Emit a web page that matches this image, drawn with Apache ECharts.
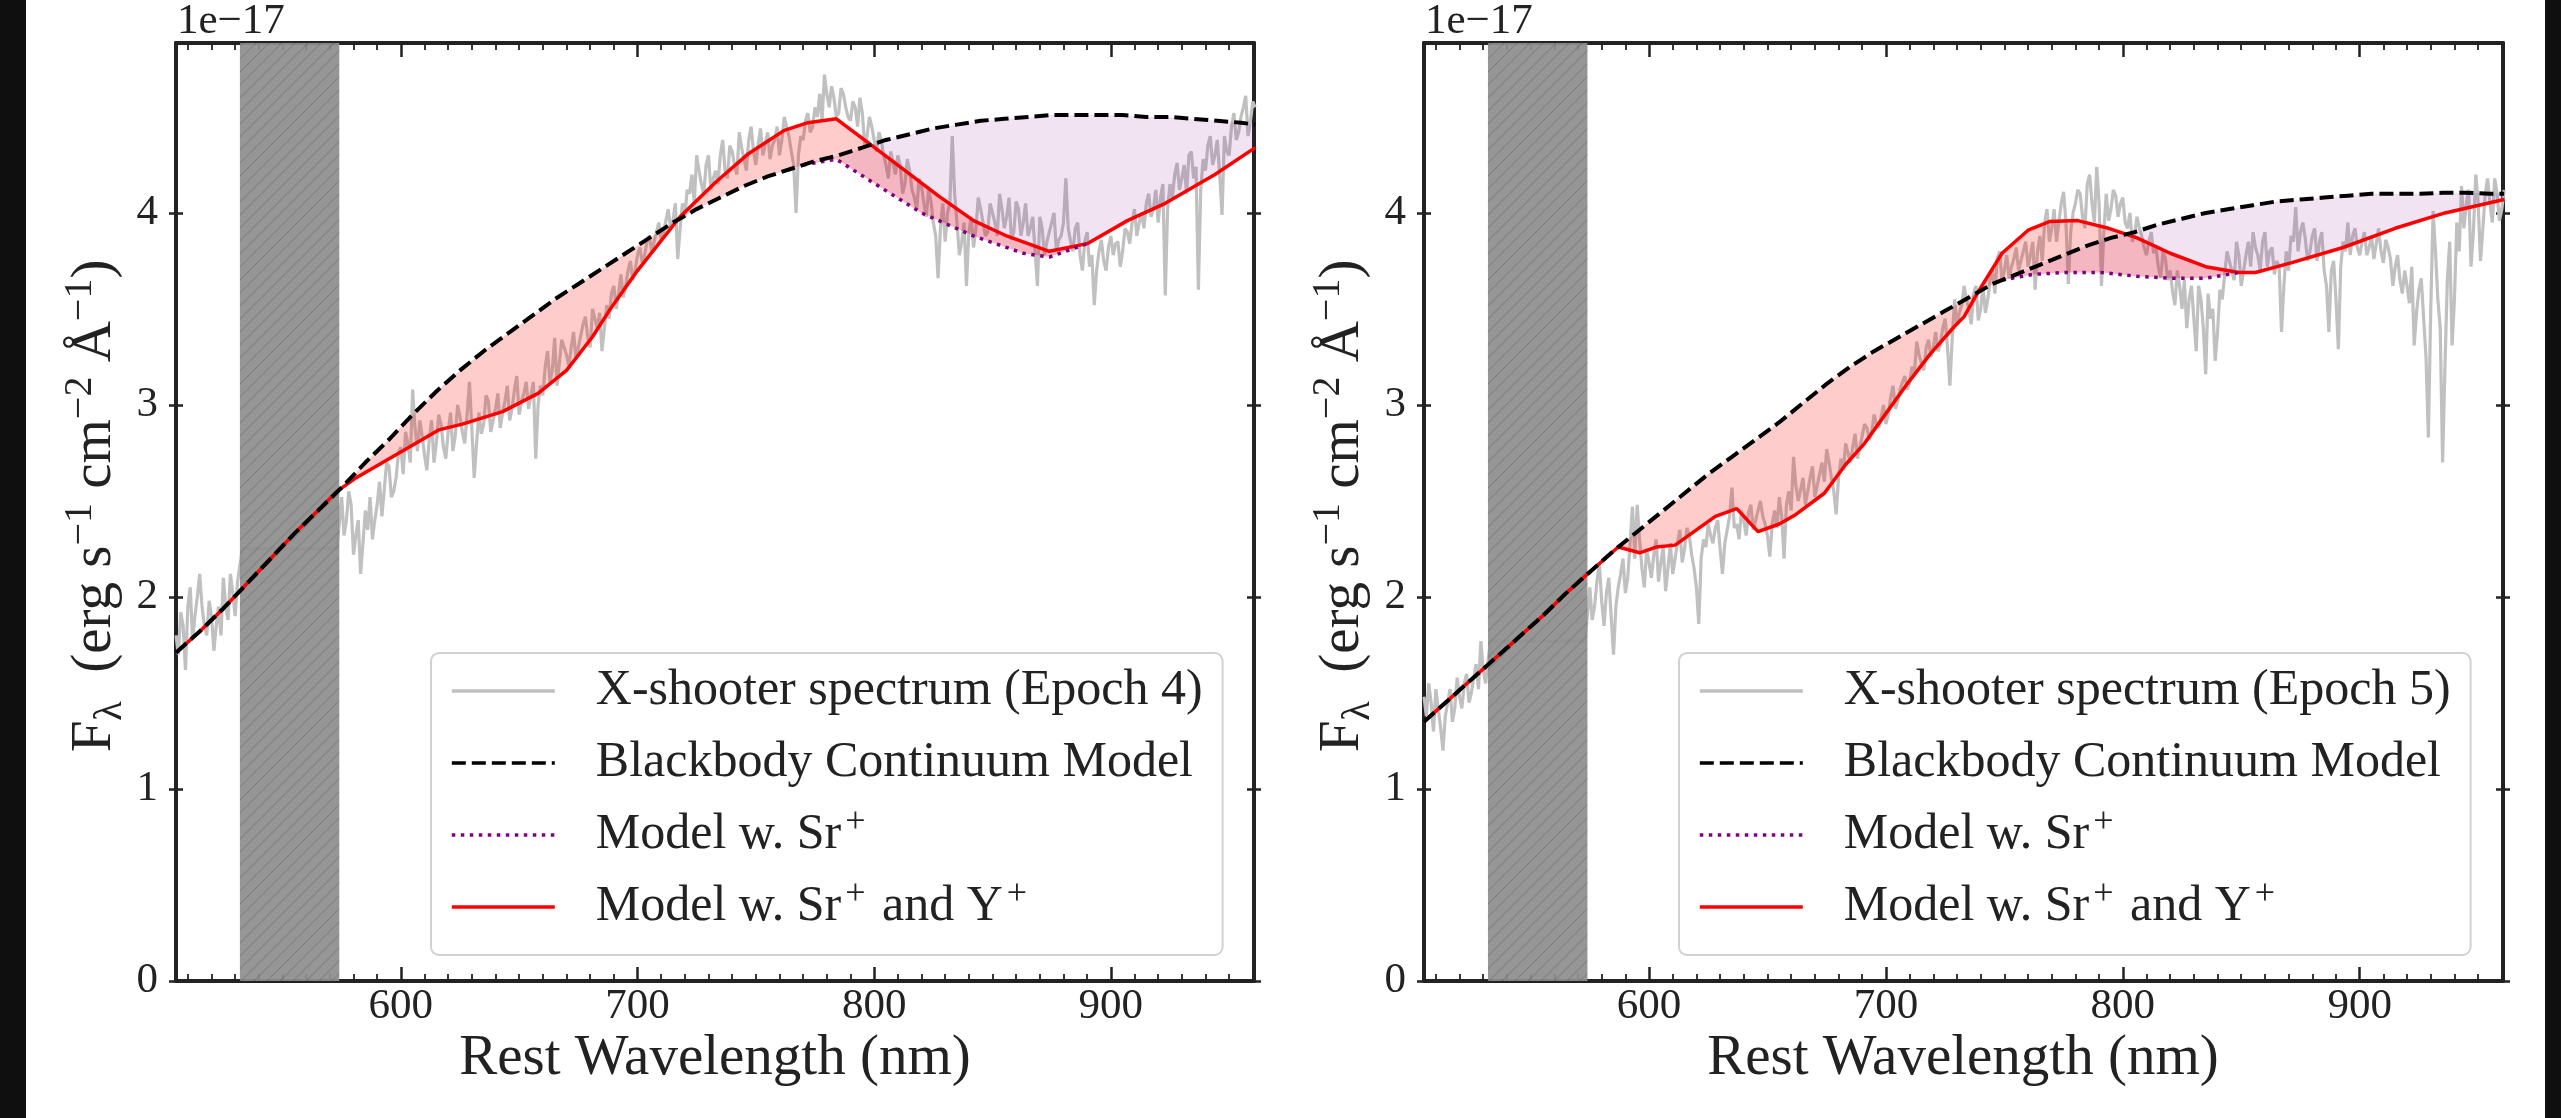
<!DOCTYPE html>
<html><head><meta charset="utf-8">
<script src="https://cdn.jsdelivr.net/npm/echarts@6/dist/echarts.min.js"></script>
<style>
html,body{margin:0;padding:0;background:#0f0f0f;overflow:hidden;}
#bg{position:absolute;left:26px;top:0;width:2519px;height:1118px;background:#fff;}
#chart{position:absolute;left:0;top:0;width:2561px;height:1118px;}
</style></head><body><div id="bg"></div><div id="chart"></div>
<script>
// ---------- axes / ticks ----------
const xMin = 505, xMax = 960.5, yMin = 0, yMax = 4.885;
const majorTicksX = [600, 700, 800, 900];
const minorTicksX = [510,520,530,540,550,560,570,580,590,610,620,630,640,650,660,670,680,690,710,720,730,740,750,760,770,780,790,810,820,830,840,850,860,870,880,890,910,920,930,940,950,960];
const yTicks = [0, 1, 2, 3, 4];
const maskBand = [532, 574];

// ---------- spectra (x 1e-17 erg/s/cm2/A), odd-nm samples ----------
const specWave = [505,507,509,511,513,515,517,519,521,523,525,527,529,531,533,573,
575,577,579,581,583,585,587,589,591,593,595,597,599,601,603,605,607,609,611,613,
615,617,619,621,623,625,627,629,631,633,635,637,639,641,643,645,647,649,651,653,
655,657,659,661,663,665,667,669,671,673,675,677,679,681,683,685,687,689,691,693,
695,697,699,701,703,705,707,709,711,713,715,717,719,721,723,725,727,729,731,733,
735,737,739,741,743,745,747,749,751,753,755,757,759,761,763,765,767,769,771,773,
775,777,779,781,783,785,787,789,791,793,795,797,799,801,803,805,807,809,811,813,
815,817,819,821,823,825,827,829,831,833,835,837,839,841,843,845,847,849,851,853,
855,857,859,861,863,865,867,869,871,873,875,877,879,881,883,885,887,889,891,893,
895,897,899,901,903,905,907,909,911,913,915,917,919,921,923,925,927,929,931,933,
935,937,939,941,943,945,947,949,951,953,955,957,959,961];
const spec4 = [1.80,1.92,1.62,2.05,1.90,2.12,1.85,1.98,1.72,1.95,2.10,1.88,2.02,2.08,2.25,2.25,
2.52,2.40,2.48,2.32,2.12,2.45,2.52,2.40,2.60,2.56,2.68,2.55,2.75,2.64,2.80,3.08,2.76,2.84,2.66,2.92,
2.80,2.90,2.72,2.96,2.84,2.94,2.80,3.12,2.62,2.96,2.90,3.02,2.92,3.06,2.96,3.10,2.98,3.15,3.02,3.12,
3.05,2.72,3.10,3.20,3.12,3.35,3.22,3.30,3.20,3.38,3.30,3.42,3.35,3.50,3.40,3.28,3.52,3.58,3.50,3.68,
3.62,3.75,3.70,3.82,3.78,3.88,3.85,3.95,3.90,4.02,3.96,3.76,4.05,4.12,4.20,4.30,4.15,4.25,4.12,4.22,
4.30,4.22,4.35,4.25,4.42,4.28,4.38,4.32,4.36,4.30,4.42,4.35,4.45,4.38,4.45,4.32,4.00,4.40,4.48,4.42,
4.55,4.62,4.72,4.55,4.60,4.52,4.62,4.50,4.58,4.45,4.52,4.40,4.45,4.32,4.38,4.25,4.32,4.20,4.25,4.15,
4.22,4.08,4.18,4.05,4.12,3.95,3.66,4.05,4.00,4.40,3.95,3.85,3.62,3.98,3.92,4.02,3.88,4.05,3.95,4.10,
3.92,4.08,3.90,4.02,3.95,3.88,3.98,3.62,3.92,3.85,3.95,3.80,3.88,4.18,3.85,3.92,3.78,3.85,3.72,3.52,
3.80,3.75,3.82,3.78,3.85,3.80,3.90,3.95,3.88,4.00,4.05,3.98,4.12,4.08,3.57,4.15,4.20,4.12,4.25,4.30,
4.18,3.60,4.28,4.35,4.25,4.38,3.99,4.32,4.45,4.38,4.50,4.61,4.48,4.55];
const spec5 = [1.48,1.55,1.30,1.42,1.20,1.45,1.35,1.58,1.42,1.60,1.50,1.65,1.77,1.55,1.77,1.77,
2.05,1.95,2.18,1.85,2.10,1.70,2.05,2.20,2.10,2.47,2.48,2.15,2.25,2.10,2.30,2.18,2.03,2.28,2.20,2.35,
2.25,2.32,2.15,1.86,2.30,2.38,2.28,2.40,2.12,2.35,2.57,2.38,2.45,2.32,2.48,2.40,2.50,2.38,2.21,2.45,
2.52,2.20,2.55,2.73,2.50,2.62,2.55,2.68,2.58,2.70,2.77,2.62,2.43,2.72,2.80,2.70,2.85,2.78,2.90,2.82,
2.95,2.88,3.00,2.95,3.10,3.02,3.12,3.08,3.20,3.33,3.22,3.30,3.25,3.38,3.32,3.45,3.10,3.55,3.48,3.62,
3.50,3.58,3.44,3.62,3.55,3.70,3.76,3.65,3.78,3.72,3.82,3.75,3.85,3.78,3.60,3.88,3.95,3.85,4.02,3.95,
4.11,3.63,4.00,4.12,3.98,4.15,4.05,4.24,3.62,4.10,4.02,4.09,4.05,3.95,4.00,3.89,3.92,3.82,3.85,3.79,
3.72,3.80,3.65,3.59,3.70,3.50,3.40,3.62,3.28,3.55,3.16,3.45,3.23,3.60,3.68,3.75,3.65,3.78,3.70,3.85,
3.90,3.78,3.85,3.72,3.82,3.75,3.38,3.80,3.88,4.03,3.90,3.87,3.80,3.92,3.85,3.70,3.38,3.75,3.29,3.85,
3.95,3.88,3.82,3.85,3.78,3.88,3.84,3.80,3.86,3.76,3.72,3.65,3.70,3.53,3.31,3.60,3.45,2.83,4.01,3.55,
2.70,3.65,3.31,3.95,4.14,4.05,3.72,4.20,3.75,4.10,4.05,4.18,3.96,4.12];

// ---------- spectra, even-nm samples ----------
const specWaveEven = [506,508,510,512,514,516,518,520,522,524,526,528,530,
576,578,580,582,584,586,588,590,592,594,596,598,600,602,604,606,608,610,612,614,
616,618,620,622,624,626,628,630,632,634,636,638,640,642,644,646,648,650,652,654,
656,658,660,662,664,666,668,670,672,674,676,678,680,682,684,686,688,690,692,694,
696,698,700,702,704,706,708,710,712,714,716,718,720,722,724,726,728,730,732,
734,736,738,740,742,744,746,748,750,752,754,756,758,760,762,764,766,768,770,772,
774,776,778,780,782,784,786,788,790,792,794,796,798,800,802,804,806,808,810,812,
814,816,818,820,822,824,826,828,830,832,834,836,838,840,842,844,846,848,850,852,
854,856,858,860,862,864,866,868,870,872,874,876,878,880,882,884,886,888,890,892,
894,896,898,900,902,904,906,908,910,912,914,916,918,920,922,924,926,928,930,932,
934,936,938,940,942,944,946,948,950,952,954,956,958,960];
const spec4Even = [1.70,1.85,1.95,1.78,2.00,1.95,1.80,1.90,1.85,1.80,1.95,2.12,1.90,
2.32,2.55,2.22,2.40,2.28,2.35,2.30,2.48,2.42,2.70,2.52,2.62,2.78,2.86,2.70,2.88,2.92,2.74,2.82,2.70,
2.95,2.78,2.86,2.76,3.00,2.86,2.95,2.88,2.80,2.85,3.05,2.86,2.98,2.88,3.02,2.92,3.08,2.95,3.06,2.98,
3.12,3.00,3.05,3.28,3.18,3.10,3.34,3.26,3.30,3.24,3.36,3.46,3.30,3.45,3.48,3.40,3.45,3.62,3.58,3.56,
3.70,3.65,3.78,3.74,3.85,3.80,3.90,3.86,3.96,3.92,4.05,3.92,3.98,4.10,4.05,4.22,4.10,4.30,4.18,
4.15,4.38,4.18,4.32,4.20,4.34,4.22,4.45,4.25,4.44,4.36,4.28,4.38,4.30,4.50,4.40,4.25,4.30,4.38,4.52,
4.45,4.50,4.48,4.62,4.66,4.50,4.65,4.55,4.48,4.55,4.60,4.35,4.50,4.38,4.42,4.30,4.18,4.26,4.30,4.10,
4.28,4.12,4.02,4.14,3.98,4.06,3.88,3.92,3.85,4.05,4.10,3.78,3.95,3.90,3.82,4.08,3.95,3.90,4.00,3.88,
4.02,3.98,3.86,4.06,3.88,4.05,3.92,3.80,3.98,3.78,3.90,4.00,3.86,3.95,3.92,3.80,3.95,3.70,3.90,3.78,
3.70,3.86,3.70,3.88,3.84,3.72,3.92,3.84,4.02,3.95,3.92,4.10,4.02,3.95,4.15,4.02,4.08,4.26,4.18,4.10,
4.32,4.24,4.12,4.22,4.40,4.30,4.20,4.40,4.30,4.52,4.42,4.55,4.40,4.58];
const spec5Even = [1.38,1.45,1.52,1.32,1.38,1.52,1.42,1.48,1.55,1.45,1.58,1.52,1.62,
1.88,2.08,1.98,2.02,1.90,1.95,2.12,2.02,2.28,2.20,2.30,2.05,2.18,2.22,2.08,2.26,2.15,2.12,2.28,2.18,
2.36,2.22,2.05,2.20,2.26,2.32,2.36,2.25,2.28,2.42,2.36,2.30,2.40,2.44,2.35,2.45,2.42,2.32,2.38,2.36,
2.42,2.48,2.45,2.58,2.56,2.48,2.62,2.52,2.64,2.60,2.70,2.55,2.62,2.66,2.75,2.78,2.72,2.84,2.88,2.86,
2.90,2.94,2.90,3.04,2.98,3.08,3.15,3.12,3.16,3.26,3.18,3.34,3.30,3.28,3.40,3.30,3.35,3.42,3.52,
3.55,3.42,3.62,3.50,3.48,3.65,3.58,3.80,3.70,3.66,3.76,3.70,3.80,3.72,3.85,3.80,3.75,4.02,3.92,3.85,
4.05,3.95,3.90,4.05,4.10,3.92,4.20,3.95,4.05,3.90,3.96,4.12,3.98,4.08,3.92,3.85,3.98,3.88,3.78,3.90,
3.82,3.66,3.76,3.70,3.52,3.62,3.65,3.55,3.45,3.62,3.40,3.58,3.50,3.38,3.55,3.80,3.70,3.85,3.62,3.78,
3.72,3.82,3.70,3.90,3.80,3.68,3.72,3.62,3.70,3.85,3.80,3.95,3.75,3.88,3.75,3.90,3.62,3.70,3.55,3.72,
3.80,3.78,3.92,3.78,3.90,3.82,3.76,3.92,3.74,3.82,3.62,3.78,3.58,3.62,3.72,3.48,3.66,3.25,3.50,3.80,
3.40,3.20,3.85,3.55,3.80,3.92,4.12,3.90,4.06,3.92,4.18,3.95,4.10,4.02];

// ---------- blackbody continuum ----------
const bbWave = [505,515,525,535,545,555,565,575,585,595,605,615,625,635,645,655,665,675,685,695,705,715,725,735,745,755,765,775,785,795,805,815,825,835,845,855,865,875,885,895,905,915,925,935,945,955,961];
const bb4 = [1.71,1.82,1.94,2.07,2.20,2.33,2.45,2.57,2.70,2.82,2.95,3.07,3.18,3.28,3.37,3.46,3.55,3.63,3.71,3.79,3.87,3.95,4.02,4.08,4.14,4.19,4.23,4.27,4.30,4.34,4.38,4.41,4.44,4.46,4.48,4.49,4.50,4.51,4.51,4.51,4.51,4.50,4.50,4.49,4.48,4.47,4.46];
const bb5 = [1.35,1.46,1.57,1.68,1.79,1.90,2.02,2.13,2.24,2.34,2.44,2.54,2.64,2.73,2.82,2.91,3.01,3.11,3.20,3.28,3.35,3.42,3.49,3.56,3.63,3.68,3.73,3.78,3.83,3.87,3.90,3.94,3.97,4.00,4.02,4.04,4.06,4.07,4.08,4.09,4.10,4.10,4.10,4.105,4.105,4.10,4.10];

// ---------- Model w. Sr+ and Y+ ----------
const sry4Wave = [505,515,525,535,545,555,565,573,581,616,626,643,658,670,681,688,700,718,733,747,762,772,784,797,811,827,842,856,874,890,907,923,944,961];
const sry4 = [1.71,1.82,1.94,2.07,2.20,2.33,2.45,2.55,2.62,2.87,2.90,2.965,3.06,3.18,3.355,3.49,3.70,3.98,4.16,4.31,4.43,4.47,4.49,4.37,4.24,4.09,3.96,3.88,3.80,3.84,3.96,4.05,4.20,4.34];
const sry5Wave = [505,515,525,535,545,555,565,575,587,596,603,611,628,637,646,655,662,674,683,691,702,709,719,729,733,739,749,760,769,781,794,806,820,835,849,856,871,893,915,936,961];
const sry5 = [1.35,1.46,1.57,1.68,1.79,1.90,2.02,2.13,2.26,2.23,2.26,2.27,2.42,2.46,2.34,2.38,2.43,2.54,2.69,2.80,2.99,3.11,3.27,3.41,3.46,3.59,3.79,3.91,3.955,3.96,3.92,3.87,3.79,3.72,3.69,3.69,3.74,3.82,3.92,4.00,4.07];

// ---------- Model w. Sr+ (where it departs from the other curves) ----------
const sr4Wave = [770,784,798,820,842,863,874,890];
const sr4 = [4.25,4.28,4.17,4.00,3.88,3.79,3.77,3.84];
const sr5Wave = [749,762,776,791,806,820,835,849];
const sr5 = [3.65,3.68,3.69,3.69,3.67,3.66,3.66,3.69];

const specNames = ['X-shooter spectrum (Epoch 4)', 'X-shooter spectrum (Epoch 5)'];

// ---------- helpers ----------
const ink = '#222';
const serif = '"Liberation Serif","DejaVu Serif","Times New Roman",serif';
function zip(w, v) { return w.map((x, i) => [x, v[i]]); }
function merged(w1, v1, w2, v2) { return zip(w1, v1).concat(zip(w2, v2)).sort((a, b) => a[0] - b[0]); }
function seg(w, v, lo, hi, incLo, incHi) {
  const out = [];
  for (let i = 0; i < w.length; i++) {
    const x = w[i];
    const okLo = incLo === false ? x > lo : x >= lo;
    const okHi = incHi === false ? x < hi : x <= hi;
    if (okLo && okHi) out.push([w[i], v[i]]);
  }
  return out;
}
function hatch() {
  const c = document.createElement('canvas');
  c.width = 13; c.height = 13;
  const g = c.getContext('2d');
  g.fillStyle = 'rgb(143,143,143)';
  g.fillRect(0, 0, 13, 13);
  g.strokeStyle = 'rgba(95,95,95,0.45)';
  g.lineWidth = 1.2;
  g.beginPath();
  g.moveTo(-2, 15); g.lineTo(15, -2);
  g.moveTo(-2, 2); g.lineTo(2, -2);
  g.moveTo(11, 15); g.lineTo(15, 11);
  g.stroke();
  return c;
}
const hatchImg = hatch();

function polySeries(p, poly, color, z) {
  return {
    type: 'custom', xAxisIndex: 4 * p, yAxisIndex: 4 * p, z: z, silent: true, clip: true,
    data: [[xMin, yMin]],
    renderItem: function (params, api) {
      return { type: 'polygon', shape: { points: poly.map(q => api.coord(q)) }, style: { fill: color } };
    }
  };
}
function bandSeries(p) {
  return {
    type: 'custom', xAxisIndex: 4 * p, yAxisIndex: 4 * p, z: 1.2, silent: true, clip: true,
    data: [[maskBand[0], maskBand[1]]],
    renderItem: function (params, api) {
      const a = api.coord([maskBand[0], yMax]);
      const b = api.coord([maskBand[1], yMin]);
      return { type: 'rect', shape: { x: a[0], y: a[1], width: b[0] - a[0], height: b[1] - a[1] },
               style: { fill: { image: hatchImg, repeat: 'repeat' }, opacity: 0.93 } };
    }
  };
}

function panelSeries(p) {
  const spec = p ? merged(specWave, spec5, specWaveEven, spec5Even) : merged(specWave, spec4, specWaveEven, spec4Even);
  const bb = p ? bb5 : bb4;
  const sw = p ? sry5Wave : sry4Wave, sv = p ? sry5 : sry4;
  const rw = p ? sr5Wave : sr4Wave, rv = p ? sr5 : sr4;
  const r0 = rw[0], r1 = rw[rw.length - 1];
  const redStart = p ? 587 : 573;
  const pinkUpper = seg(sw, sv, redStart, r1);
  const pinkLower = seg(bbWave, bb, redStart, r0, true, false).concat(seg(rw, rv, r0, r1));
  const pink = pinkUpper.concat(pinkLower.slice().reverse());
  const lavLower = seg(rw, rv, r0, r1).concat(seg(sw, sv, r1, 961, false, true));
  const lavUpper = seg(bbWave, bb, r0, 961);
  const lav = lavLower.concat(lavUpper.slice().reverse());
  const ax = { xAxisIndex: 4 * p, yAxisIndex: 4 * p };
  return [
    Object.assign({ type: 'line', name: specNames[p], data: spec, symbol: 'none', showSymbol: false, z: 1,
      lineStyle: { color: '#c0c0c0', width: 3.2 }, itemStyle: { color: '#c0c0c0' }, silent: true }, ax),
    bandSeries(p),
    polySeries(p, lav, 'rgba(128,0,128,0.11)', 1.4),
    polySeries(p, pink, 'rgba(255,0,0,0.2)', 1.4),
    Object.assign({ type: 'line', name: 'Model w. Sr+ and Y+', data: zip(sw, sv), symbol: 'none', showSymbol: false, z: 1.6,
      lineStyle: { color: '#ff0000', width: 3.5 }, itemStyle: { color: '#ff0000' }, silent: true }, ax),
    Object.assign({ type: 'line', name: 'Model w. Sr+', data: zip(rw, rv), symbol: 'none', showSymbol: false, z: 1.7,
      lineStyle: { color: '#800080', width: 3.5, type: [3.5, 5.5] }, itemStyle: { color: '#800080' }, silent: true }, ax),
    Object.assign({ type: 'line', name: 'Blackbody Continuum Model', data: zip(bbWave, bb), symbol: 'none', showSymbol: false, z: 1.8,
      lineStyle: { color: '#000000', width: 4, type: [14, 6] }, itemStyle: { color: '#000000' }, silent: true }, ax)
  ];
}

function xAxes(p) {
  const base = { type: 'value', gridIndex: p, min: xMin, max: xMax, splitLine: { show: false } };
  const tk = (len, w, vals) => ({ show: true, inside: true, length: len, lineStyle: { color: ink, width: w }, customValues: vals });
  return [
    Object.assign({}, base, { position: 'bottom', axisLine: { show: true, onZero: false, lineStyle: { color: ink, width: 4 } },
      axisTick: tk(14, 2.5, majorTicksX),
      axisLabel: { show: true, customValues: majorTicksX, margin: 4, fontSize: 43, fontFamily: serif, color: ink } }),
    Object.assign({}, base, { position: 'bottom', axisLine: { show: false, onZero: false }, axisTick: tk(7, 1.8, minorTicksX), axisLabel: { show: false } }),
    Object.assign({}, base, { position: 'top', axisLine: { show: true, onZero: false, lineStyle: { color: ink, width: 4 } }, axisTick: tk(14, 2.5, majorTicksX), axisLabel: { show: false } }),
    Object.assign({}, base, { position: 'top', axisLine: { show: false, onZero: false }, axisTick: tk(7, 1.8, minorTicksX), axisLabel: { show: false } })
  ];
}
function yAxes(p) {
  const base = { type: 'value', gridIndex: p, min: yMin, max: yMax, splitLine: { show: false } };
  const tk = (inside) => ({ show: true, inside: inside, length: 7, lineStyle: { color: ink, width: 2.5 }, customValues: yTicks });
  return [
    Object.assign({}, base, { position: 'left', axisLine: { show: true, onZero: false, lineStyle: { color: ink, width: 4 } }, axisTick: tk(false),
      axisLabel: { show: true, customValues: yTicks, margin: 18, fontSize: 43, fontFamily: serif, color: ink } }),
    Object.assign({}, base, { position: 'left', axisLine: { show: false, onZero: false }, axisTick: tk(true), axisLabel: { show: false } }),
    Object.assign({}, base, { position: 'right', axisLine: { show: true, onZero: false, lineStyle: { color: ink, width: 4 } }, axisTick: tk(false), axisLabel: { show: false } }),
    Object.assign({}, base, { position: 'right', axisLine: { show: false, onZero: false }, axisTick: tk(true), axisLabel: { show: false } })
  ];
}
function legendCfg(p) {
  return {
    show: true, orient: 'vertical', left: p ? 1679 : 431, top: 653,
    data: [specNames[p], 'Blackbody Continuum Model', 'Model w. Sr+', 'Model w. Sr+ and Y+'],
    itemWidth: 103, itemHeight: 20, itemGap: 12, padding: [8, 20, 18, 19],
    backgroundColor: 'rgba(255,255,255,0.8)', borderColor: 'rgba(204,204,204,0.9)', borderWidth: 2, borderRadius: 8,
    selectedMode: false, z: 10,
    itemStyle: { color: 'rgba(0,0,0,0)', borderColor: 'rgba(0,0,0,0)', borderWidth: 0, opacity: 0 },
    lineStyle: { width: 3.6 },
    formatter: function (name) { return name.replace(/\+/g, '{sup|+}'); },
    textStyle: { fontSize: 50, fontFamily: serif, color: ink, lineHeight: 60, padding: [0, 0, 0, 36],
      rich: { sup: { fontSize: 36, lineHeight: 36, verticalAlign: 'top', padding: [0, 4, 0, 4], fontFamily: serif, color: ink } } }
  };
}
function labels(p) {
  const dx = p ? 1248 : 0;
  const richY = {
    sub: { fontSize: 40, lineHeight: 40, verticalAlign: 'bottom', fontFamily: serif, fill: ink },
    sup: { fontSize: 40, lineHeight: 40, verticalAlign: 'top', fontFamily: serif, fill: ink }
  };
  return [
    { type: 'text', x: 715 + dx, y: 1059, z: 10, style: { text: 'Rest Wavelength (nm)', fontSize: 57, fontFamily: serif, fill: ink, align: 'center', verticalAlign: 'middle', textAlign: 'center', textVerticalAlign: 'middle' } },
    { type: 'text', x: 177 + dx, y: 22, z: 10, style: { text: '1e\u221217', fontSize: 43, fontFamily: serif, fill: ink, align: 'left', verticalAlign: 'middle', textAlign: 'left', textVerticalAlign: 'middle' } },
    { type: 'text', x: 95 + dx, y: 506, rotation: Math.PI / 2, z: 10,
      style: { text: 'F{sub|\u03bb}  (erg s{sup|\u22121} cm{sup|\u22122} \u00c5{sup|\u22121})', fontSize: 57, lineHeight: 70, fontFamily: serif, fill: ink,
        align: 'center', verticalAlign: 'middle', textAlign: 'center', textVerticalAlign: 'middle', rich: richY } }
  ];
}

const chart = echarts.init(document.getElementById('chart'), null, { renderer: 'canvas' });
chart.setOption({
  animation: false,
  backgroundColor: 'transparent',
  textStyle: { fontFamily: serif },
  grid: [
    { left: 176, top: 43, width: 1078, height: 938, containLabel: false },
    { left: 1424, top: 43, width: 1079, height: 938, containLabel: false }
  ],
  xAxis: xAxes(0).concat(xAxes(1)),
  yAxis: yAxes(0).concat(yAxes(1)),
  legend: [legendCfg(0), legendCfg(1)],
  graphic: labels(0).concat(labels(1)),
  series: panelSeries(0).concat(panelSeries(1))
});
</script></body></html>
